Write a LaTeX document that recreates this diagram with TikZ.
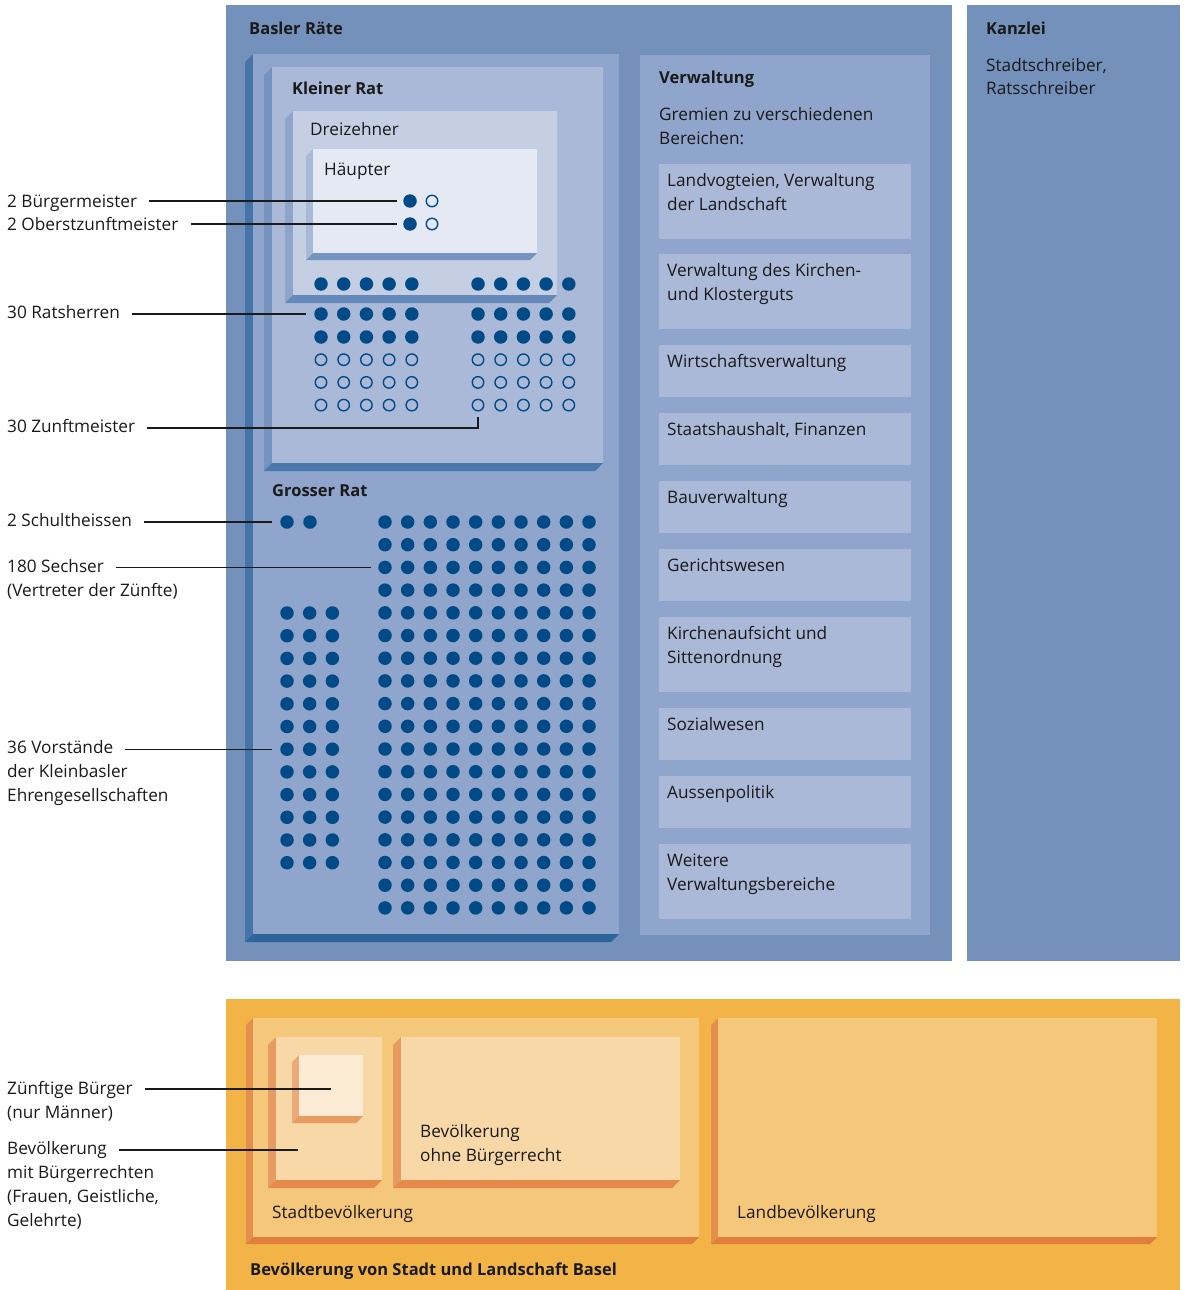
\documentclass[tikz,border=0pt]{standalone}
\usepackage{fontspec}
\setmainfont{Open Sans}
\definecolor{outerblue}{HTML}{7391BB}
\definecolor{grfront}{HTML}{8FA5CB}
\definecolor{grleft}{HTML}{4574A8}
\definecolor{grbottom}{HTML}{2C6599}
\definecolor{klfront}{HTML}{A9B9D7}
\definecolor{klleft}{HTML}{7693C0}
\definecolor{klbottom}{HTML}{4B79AC}
\definecolor{drfront}{HTML}{C4CFE4}
\definecolor{drleft}{HTML}{8EA4CA}
\definecolor{drbottom}{HTML}{6489B9}
\definecolor{hafront}{HTML}{E4E9F4}
\definecolor{haleft}{HTML}{A9BAD7}
\definecolor{habottom}{HTML}{7694C0}
\definecolor{dotblue}{HTML}{004B87}
\definecolor{orouter}{HTML}{F2B347}
\definecolor{orfront}{HTML}{F5C77A}
\definecolor{orleft}{HTML}{E58F4F}
\definecolor{orbottom}{HTML}{E07F3A}
\definecolor{brfront}{HTML}{F8D8A6}
\definecolor{brleft}{HTML}{E89B60}
\definecolor{brbottom}{HTML}{E58A4A}
\definecolor{zbfront}{HTML}{FCEBD4}
\definecolor{zbleft}{HTML}{EDAA78}
\definecolor{zbbottom}{HTML}{E89B60}
\definecolor{ink}{HTML}{1A1A1A}
\newcommand\bxthree[9]{%
  \fill[#8] (#2,#3) -- (#2-#6,#3+#6) -- (#2-#6,#5+#6) -- (#2,#5) -- cycle;
  \fill[#9] (#2-#6,#5+#6) -- (#4-#6,#5+#6) -- (#4,#5) -- (#2,#5) -- cycle;
  \node[fill=#7,inner sep=0pt,outer sep=0pt,minimum width=#4-#2,minimum height=#5-#3,anchor=north west] (#1) at (#2,#3) {};
}
\begin{document}
\begin{tikzpicture}[x=1pt,y=-1pt,
  every node/.style={font=\fontsize{17.2}{24}\selectfont, text=ink},
  txt/.style={anchor=base west, inner sep=0pt, align=left},
  ttl/.style={txt, font=\fontsize{16.5}{24}\selectfont\bfseries},
  flat/.style={inner sep=0pt, outer sep=0pt, anchor=north west},
  dotf/.style={circle, fill=dotblue, inner sep=0pt, minimum size=13.5pt},
  doto/.style={circle, draw=dotblue, line width=1.4pt, inner sep=0pt, minimum size=11.5pt},
  conn/.style={draw=ink, line width=1.2pt, shorten <=12pt, shorten >=6pt}]
\useasboundingbox (0,0) rectangle (1183,1290);
% ---------- Basler Räte ----------
\node[flat, fill=outerblue, minimum width=726, minimum height=956] (raete) at (226,5) {};
\node[flat, fill=outerblue, minimum width=213, minimum height=956] (kanzlei) at (967,5) {};
\node[ttl] (traete) at (249,35) {Basler Räte};
\node[ttl] (tkanzlei) at (986,35) {Kanzlei};
% multi-line nodes: base anchor = baseline of last line
\node[txt] (tschreiber) at (986,71+24) {Stadtschreiber,\\Ratsschreiber};
% Grosser Rat
\bxthree{grosser}{253}{54}{619}{934}{8}{grfront}{grleft}{grbottom}
\bxthree{kleiner}{272}{67}{603}{463}{8}{klfront}{klleft}{klbottom}
\bxthree{dreizehner}{293}{111}{557}{295}{8}{drfront}{drleft}{drbottom}
\bxthree{haeupter}{313}{149}{537}{253}{7}{hafront}{haleft}{habottom}
\node[ttl] (tkleiner) at (292,94) {Kleiner Rat};
\node[txt] (tdrei) at (310,135) {Dreizehner};
\node[txt] (thaeupter) at (324,175) {Häupter};
\node[ttl] (tgrosser) at (272,496) {Grosser Rat};
% Häupter dots
\node[dotf] (hb-f) at (410,201) {};
\node[doto] (hb-o) at (432,201) {};
\node[dotf] (ho-f) at (410,224) {};
\node[doto] (ho-o) at (432,224) {};
% Kleiner Rat dots
\foreach \c in {0,...,4}{
  \foreach \y/\t [count=\r] in {284/dotf,314/dotf,337/dotf,359.7/doto,382.4/doto,405.1/doto}{
    \node[\t] (kl-\r-\c) at (321+22.7*\c,\y) {};
    \node[\t] (kr-\r-\c) at (478+22.7*\c,\y) {};
  }
}
% Grosser Rat dots
\node[dotf] (sch-0) at (287,522) {};
\node[dotf] (sch-1) at (310,522) {};
\foreach \c in {0,...,9}{
  \foreach \r in {0,...,17}{
    \node[dotf] (gr-\r-\c) at (385+22.67*\c,522+22.7*\r) {};
  }
}
\foreach \c in {0,1,2}{
  \foreach \r in {0,...,11}{
    \node[dotf] (vo-\r-\c) at (287+22.67*\c,613+22.7*\r) {};
  }
}
% ---------- Verwaltung ----------
\node[flat, fill=grfront, minimum width=290, minimum height=880] (verw) at (640,55) {};
\node[ttl] (tverw) at (659,84) {Verwaltung};
\node[txt] (tgremien) at (659,120+24) {Gremien zu verschiedenen\\Bereichen:};
\foreach \top/\h/\n/\lab [count=\i] in {
  164/75/1/{Landvogteien, Verwaltung\\der Landschaft},
  254/75/1/{Verwaltung des Kirchen-\\und Klosterguts},
  345/52/0/{Wirtschaftsverwaltung},
  413/52/0/{Staatshaushalt, Finanzen},
  481/52/0/{Bauverwaltung},
  549/52/0/{Gerichtswesen},
  617/75/1/{Kirchenaufsicht und\\Sittenordnung},
  708/52/0/{Sozialwesen},
  776/52/0/{Aussenpolitik},
  844/75/1/{Weitere\\Verwaltungsbereiche}}{
  \node[flat, fill=klfront, minimum width=252, minimum height=\h] (vb-\i) at (659,\top) {};
  \node[txt] (tvb-\i) at (667,\top+22.5+24*\n) {\lab};
}
% ---------- Bevölkerung ----------
\node[flat, fill=orouter, minimum width=954, minimum height=291] (bev) at (226,999) {};
\node[ttl] (tbev) at (250,1275) {Bevölkerung von Stadt und Landschaft Basel};
\bxthree{stadt}{253}{1018}{699}{1237}{7}{orfront}{orleft}{orbottom}
\bxthree{land}{718}{1018}{1157}{1237}{7}{orfront}{orleft}{orbottom}
\bxthree{mitbr}{276}{1037}{382}{1180}{8}{brfront}{brleft}{brbottom}
\bxthree{ohnebr}{401}{1037}{680}{1180}{8}{brfront}{brleft}{brbottom}
\bxthree{zuenftig}{299}{1055}{363}{1116}{7}{zbfront}{zbleft}{zbbottom}
\node[txt] (tstadt) at (272,1218) {Stadtbevölkerung};
\node[txt] (tland) at (737,1218) {Landbevölkerung};
\node[txt] (tohne) at (420,1139+22) {Bevölkerung\\ohne Bürgerrecht};
% ---------- left labels ----------
\node[txt] (lBM) at (7,207) {2 Bürgermeister};
\node[txt] (lOZ) at (7,230) {2 Oberstzunftmeister};
\node[txt] (lRH) at (7,318) {30 Ratsherren};
\node[txt] (lZM) at (7,432) {30 Zunftmeister};
\node[txt] (lSch) at (7,526) {2 Schultheissen};
\node[txt] (lSe) at (7,572) {180 Sechser};
\node[txt] (lSe2) at (7,596) {(Vertreter der Zünfte)};
\node[txt] (lVo) at (7,753) {36 Vorstände};
\node[txt] (lVo2) at (7,777+24) {der Kleinbasler\\Ehrengesellschaften};
\node[txt] (lZB) at (7,1094) {Zünftige Bürger};
\node[txt] (lZB2) at (7,1118) {(nur Männer)};
\node[txt] (lBR) at (7,1154) {Bevölkerung};
\node[txt] (lBR2) at (7,1178+48) {mit Bürgerrechten\\(Frauen, Geistliche,\\Gelehrte)};
\coordinate (zmc) at (478,428);
\coordinate (zbEnd) at (331,1089);
\coordinate (brEnd) at (298,1150);
% ---------- connectors ----------
\draw[conn] (lBM.east |- hb-f) -- (hb-f.west);
\draw[conn] (lOZ.east |- ho-f) -- (ho-f.west);
\draw[conn, shorten >=8pt] (lRH.east |- kl-2-0) -- (kl-2-0.west);
\draw[conn, shorten >=5.5pt] (lZM.east |- zmc) -| (kr-6-0.south);
\draw[conn, shorten >=8pt] (lSch.east |- sch-0) -- (sch-0.west);
\draw[conn, shorten >=7pt] (lSe.east |- gr-2-0) -- (gr-2-0.west);
\draw[conn, shorten >=8pt] (lVo.east |- vo-6-0) -- (vo-6-0.west);
\draw[conn, shorten >=0pt] (lZB.east |- zbEnd) -- (zbEnd);
\draw[conn, shorten >=0pt] (lBR.east |- brEnd) -- (brEnd);
\end{tikzpicture}
\end{document}
